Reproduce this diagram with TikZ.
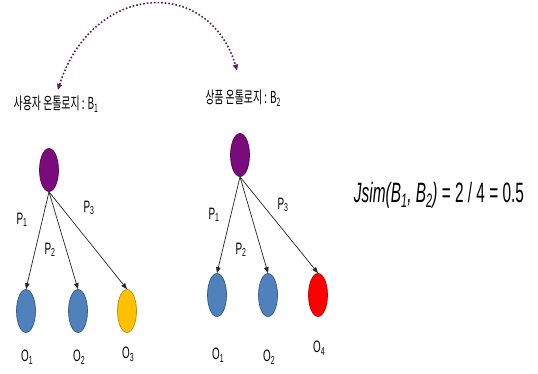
\documentclass[tikz,border=0pt]{standalone}
\usepackage{fontspec}
\setmainfont{Liberation Sans}
\newfontfamily\kofont{Noto Sans CJK KR}
\usetikzlibrary{shapes.geometric,arrows.meta}
\definecolor{ontpurple}{HTML}{7B0A7D}
\definecolor{ontblue}{HTML}{4F81BD}
\definecolor{ontyellow}{HTML}{FFC000}
\definecolor{ontred}{HTML}{FF0000}
\definecolor{arcpurple}{HTML}{5A1E5C}
\begin{document}
\begin{tikzpicture}[x=1pt,y=-1pt,
  cl/.style={ellipse,draw,line width=0.7pt,minimum width=19pt,minimum height=43pt,inner sep=0pt},
  lb/.style={font=\fontsize{16.5}{16.5}\selectfont,xscale=0.6,transform shape,inner sep=0pt},
  ed/.style={draw=black!85,line width=0.7pt,-{Triangle[length=6pt,width=4.5pt]}}]
  \fill[white,use as bounding box] (0,0) rectangle (538,374);
  % ontology titles
  \node[lb] (t1) at (56,104){\kofont 사용자 온톨로지 : B\textsubscript{1}};
  \node[lb] (t2) at (243,98){\kofont 상품 온톨로지 : B\textsubscript{2}};
  \draw[arcpurple,dotted,line width=1.6pt,{Triangle[length=6pt,width=5pt]}-{Triangle[length=6pt,width=5pt]},shorten <=6pt,shorten >=20pt]
    (t1.north) .. controls (92,-17) and (208,-25) .. (t2.north);
  % user ontology B1
  \node[cl,fill=ontpurple,draw=ontpurple!70!black] (r1) at (49,170){};
  \node[cl,fill=ontblue,draw=ontblue!70!black] (o11) at (26,311){};
  \node[cl,fill=ontblue,draw=ontblue!70!black] (o12) at (78,311){};
  \node[cl,fill=ontyellow,draw=ontyellow!75!black] (o13) at (127,311){};
  \draw[ed] (r1.south) -- (o11.north);
  \draw[ed] (r1.south) -- (o12.north);
  \draw[ed] (r1.south) -- (o13.north);
  \node[lb] (p11) at (22,220){P\textsubscript{1}};
  \node[lb] (p12) at (50,250){P\textsubscript{2}};
  \node[lb] (p13) at (89,208){P\textsubscript{3}};
  \node[lb] (l11) at (27,357){O\textsubscript{1}};
  \node[lb] (l12) at (79,357){O\textsubscript{2}};
  \node[lb] (l13) at (128,354){O\textsubscript{3}};
  % product ontology B2
  \node[cl,fill=ontpurple,draw=ontpurple!70!black] (r2) at (240,155){};
  \node[cl,fill=ontblue,draw=ontblue!70!black] (o21) at (217,295){};
  \node[cl,fill=ontblue,draw=ontblue!70!black] (o22) at (268,295){};
  \node[cl,fill=ontred,draw=ontred!75!black] (o23) at (318,295){};
  \draw[ed] (r2.south) -- (o21.north);
  \draw[ed] (r2.south) -- (o22.north);
  \draw[ed] (r2.south) -- (o23.north);
  \node[lb] (p21) at (214,215){P\textsubscript{1}};
  \node[lb] (p22) at (241,250){P\textsubscript{2}};
  \node[lb] (p23) at (283,205){P\textsubscript{3}};
  \node[lb] (l21) at (218,355){O\textsubscript{1}};
  \node[lb] (l22) at (269,357){O\textsubscript{2}};
  \node[lb] (l23) at (319,348){O\textsubscript{4}};
  % similarity
  \node[font=\fontsize{28}{28}\selectfont,xscale=0.55,transform shape,inner sep=0pt] (js) at (439,195)
    {\textit{Jsim(B\textsubscript{1}, B\textsubscript{2})} = 2 / 4 = 0.5};
\end{tikzpicture}
\end{document}
